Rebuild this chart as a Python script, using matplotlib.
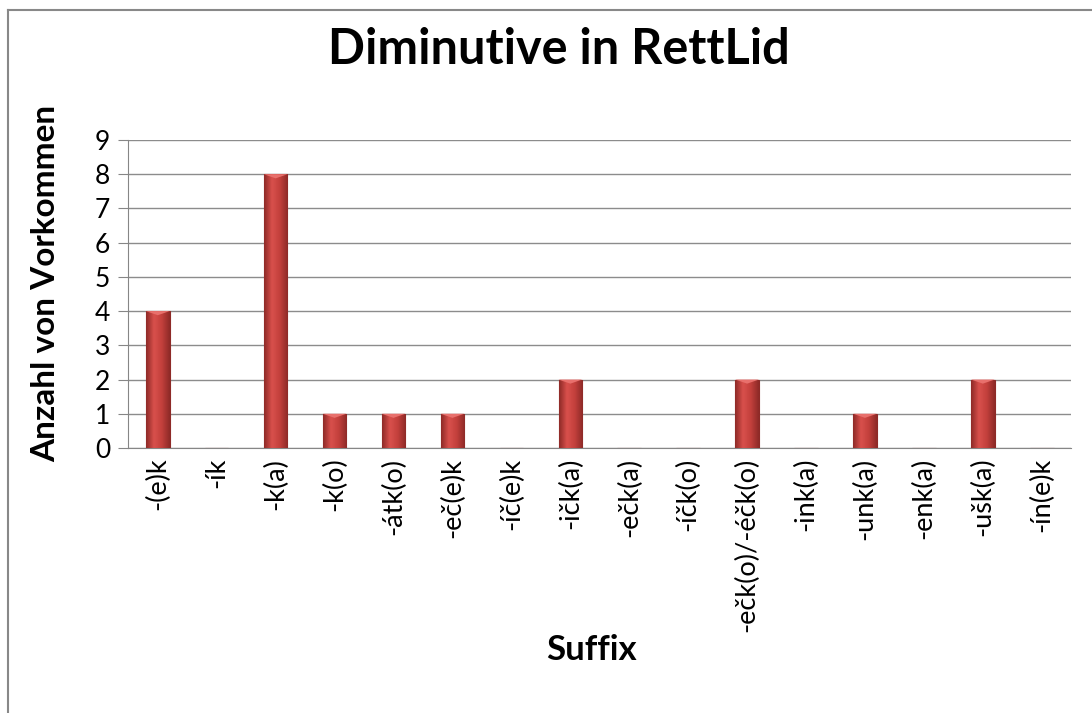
import matplotlib
matplotlib.use("Agg")
import matplotlib.pyplot as plt
import numpy as np
from matplotlib.lines import Line2D
from matplotlib.colors import LinearSegmentedColormap

categories = ["-(e)k", "-ík", "-k(a)", "-k(o)", "-átk(o)", "-eč(e)k", "-íč(e)k", "-ičk(a)",
              "-ečk(a)", "-íčk(o)", "-ečk(o)/-éčk(o)", "-ink(a)", "-unk(a)", "-enk(a)",
              "-ušk(a)", "-ín(e)k"]
values = [4, 0, 8, 1, 1, 1, 0, 2, 0, 0, 2, 0, 1, 0, 2, 0]
yticks = list(range(0, 10))

plt.rcParams['font.family'] = ['Lato', 'DejaVu Sans']

fig = plt.figure(figsize=(10.92, 7.13), dpi=100)
ax = fig.add_axes([0.1175, 0.3717, 0.8635, 0.4319])

x = np.arange(len(categories))
bars = ax.bar(x, values, width=0.4, color='#C0504D', edgecolor='#8E2A27', linewidth=0.8, zorder=3)

grad = np.linspace(0, 1, 64)
cmap = LinearSegmentedColormap.from_list("r", ["#8E2A27", "#D9504C", "#C2403C", "#8E2A27"])
for b in bars:
    h = b.get_height()
    if h <= 0:
        continue
    x0 = b.get_x(); w = b.get_width()
    im = ax.imshow(grad.reshape(1, -1), cmap=cmap, aspect='auto',
                   extent=[x0, x0 + w, 0, h], zorder=3.5, interpolation='bicubic')
    im.set_clip_path(b)
    ax.fill([x0, x0 + w, x0 + w / 2], [h, h, h - 0.12], color='#E8706C', zorder=4, linewidth=0)

ax.set_xlim(-0.5, len(categories) - 0.5)
ax.set_ylim(0, 9)
ax.set_yticks(yticks)
ax.set_yticklabels([str(t) for t in yticks], fontsize=19)
ax.set_xticks(x)
ax.set_xticklabels(categories, rotation=90, fontsize=19.5)
ax.tick_params(axis='x', length=0, pad=7)
ax.tick_params(axis='y', length=7, color='#868686', pad=6)
ax.grid(axis='y', color='#8C8C8C', linewidth=1, zorder=0)
ax.set_axisbelow(True)
for s in ['top', 'right']:
    ax.spines[s].set_visible(False)
ax.spines['left'].set_color('#868686')
ax.spines['bottom'].set_color('#868686')

fig.text(0.512, 0.930, "Diminutive in RettLid", ha='center', va='center', fontsize=35, fontweight='bold')
fig.text(0.042, 0.603, "Anzahl von Vorkommen", ha='center', va='center', rotation=90, fontsize=24, fontweight='bold')
fig.text(0.542, 0.088, "Suffix", ha='center', va='center', fontsize=25, fontweight='bold')

fig.add_artist(Line2D([0.0073, 1.0], [0.986, 0.986], transform=fig.transFigure, color='#888888', linewidth=1.5))
fig.add_artist(Line2D([0.0073, 0.0073], [0.0, 0.986], transform=fig.transFigure, color='#888888', linewidth=1.5))

fig.savefig("out.png", dpi=100)
